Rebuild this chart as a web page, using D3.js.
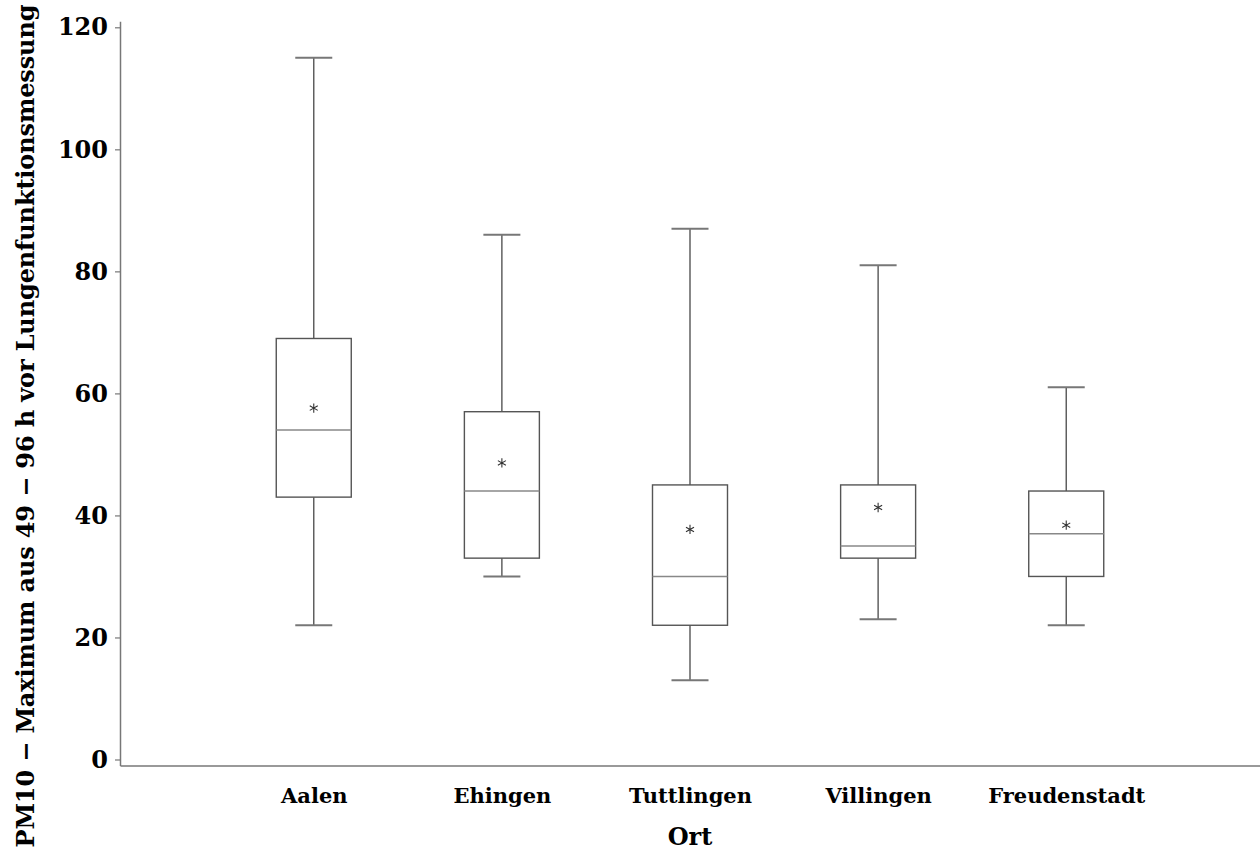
<!DOCTYPE html>
<html><head><meta charset="utf-8">
<script src="https://cdn.jsdelivr.net/npm/d3@7"></script>
<style>
html,body{margin:0;padding:0;background:#fff;}
svg{display:block;}
text{font-family:"DejaVu Serif","Liberation Serif",serif;font-weight:bold;fill:#000;}
</style></head>
<body>
<svg id="chart" width="1260" height="857"></svg>
<script>
const categories = ["Aalen","Ehingen","Tuttlingen","Villingen","Freudenstadt"];
const whiskerLow  = [22, 30, 13, 23, 22];
const q1Values    = [43, 33, 22, 33, 30];
const medianValues= [54, 44, 30, 35, 37];
const q3Values    = [69, 57, 45, 45, 44];
const whiskerHigh = [115, 86, 87, 81, 61];
const meanValues  = [57.6, 48.6, 37.7, 41.3, 38.4];
const yTicks = [0, 20, 40, 60, 80, 100, 120];
const xTitle = "Ort";
const yTitle = "PM10 \u2212 Maximum  aus  49 \u2212 96  h  vor  Lungenfunktionsmessung";

(function(){
const svg = d3.select("#chart");
const mLeft = 120, mRight = 1260, mTop = 21.2, mBottom = 765.6;
const x = d3.scalePoint().domain(categories).range([mLeft, mRight]).padding(1.03);
const y = d3.scaleLinear().domain([-1, 121]).range([mBottom, mTop]);
const lineColor = "#555";
const boxW = 75, capW = 37;

const data = categories.map((c,i)=>({c, lo:whiskerLow[i], q1:q1Values[i], med:medianValues[i], q3:q3Values[i], hi:whiskerHigh[i], mean:meanValues[i]}));

const yAxis = d3.axisLeft(y).tickValues(yTicks).tickSize(5).tickPadding(7).tickSizeOuter(0);
const gy = svg.append("g").attr("transform",`translate(${mLeft},0)`).call(yAxis);
gy.select(".domain").attr("stroke","#777").attr("stroke-width",1.5);
gy.selectAll(".tick line").attr("stroke","#777").attr("stroke-width",1.2);
gy.selectAll(".tick text").attr("font-size",24).attr("font-family","DejaVu Serif").attr("font-weight","bold").attr("fill","#000");

const xAxis = d3.axisBottom(x).tickSize(0).tickPadding(22).tickSizeOuter(0);
const gx = svg.append("g").attr("transform",`translate(0,${mBottom})`).call(xAxis);
gx.select(".domain").attr("stroke","#777").attr("stroke-width",1.5);
gx.selectAll(".tick text").attr("font-size",21).attr("font-family","DejaVu Serif").attr("font-weight","bold").attr("fill","#000");

const g = svg.append("g").attr("fill","none").attr("stroke",lineColor).attr("stroke-width",1.4);
data.forEach(d=>{
  const cx = x(d.c);
  g.append("line").attr("x1",cx).attr("x2",cx).attr("y1",y(d.hi)).attr("y2",y(d.q3));
  g.append("line").attr("x1",cx).attr("x2",cx).attr("y1",y(d.q1)).attr("y2",y(d.lo));
  g.append("line").attr("x1",cx-capW/2).attr("x2",cx+capW/2).attr("y1",y(d.hi)).attr("y2",y(d.hi)).attr("stroke","#777").attr("stroke-width",2);
  g.append("line").attr("x1",cx-capW/2).attr("x2",cx+capW/2).attr("y1",y(d.lo)).attr("y2",y(d.lo)).attr("stroke","#777").attr("stroke-width",2);
  g.append("rect").attr("x",cx-boxW/2).attr("y",y(d.q3)).attr("width",boxW).attr("height",y(d.q1)-y(d.q3));
  g.append("line").attr("x1",cx-boxW/2).attr("x2",cx+boxW/2).attr("y1",y(d.med)).attr("y2",y(d.med)).attr("stroke","#888").attr("stroke-width",1.6);
  g.append("path").attr("d",d3.symbol(d3.symbolAsterisk,60)()).attr("transform",`translate(${cx},${y(d.mean)})`).attr("stroke","#333").attr("stroke-width",1.1);
});

svg.append("text").attr("x",(mLeft+mRight)/2).attr("y",845).attr("text-anchor","middle").attr("font-size",24).text(xTitle);
svg.append("text").attr("transform",`translate(34,426) rotate(-90)`).attr("text-anchor","middle")
  .attr("font-size",24).attr("textLength",843).attr("lengthAdjust","spacing").text(yTitle);
})();
</script>
</body></html>
